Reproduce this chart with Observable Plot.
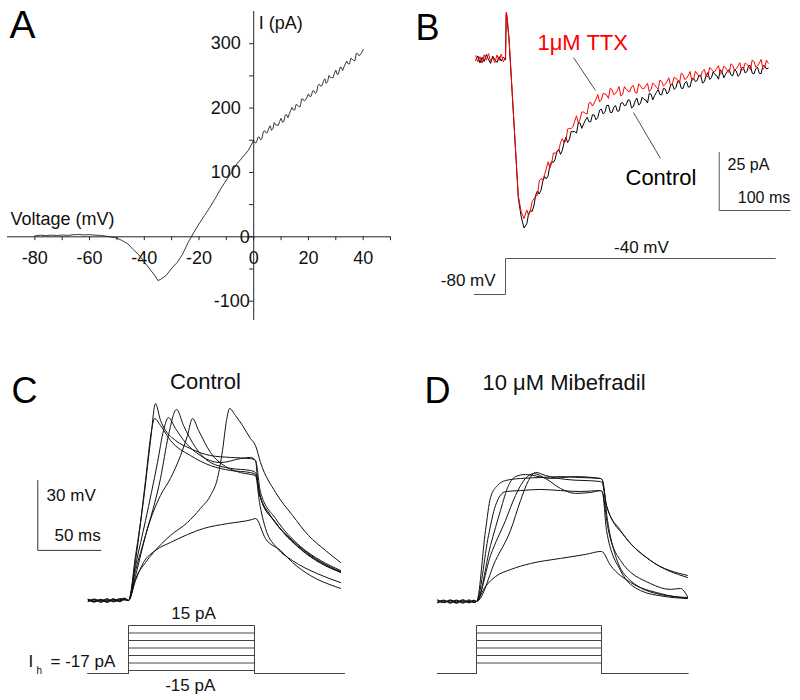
<!DOCTYPE html>
<html><head><meta charset="utf-8">
<script src="https://cdn.jsdelivr.net/npm/d3@7"></script>
<script src="https://cdn.jsdelivr.net/npm/@observablehq/plot@0.6"></script>
<style>
body{margin:0;background:#fff;}
#fig{position:relative;width:800px;height:700px;background:#fff;}
</style></head><body><div id="fig"></div>
<script>
// ---------- Panel A: I-V curve (mV, pA) ----------
const ivCurve = [[-80,1.5],[-78,2.5],[-76,1.8],[-74,2.6],[-72,2],[-70,2.8],[-68,2.2],[-66,3.2],[-64,3.6],[-62,2.9],[-60,3.4],[-58,2.6],[-56,2.2],[-54,1],[-52,-0.5],[-50,-2],[-48,-6],[-46,-11],[-44,-20],[-42,-28],[-40,-39],[-38,-50],[-36,-61],[-35,-68],[-34,-66],[-33,-63],[-32,-60],[-30,-49],[-28,-40],[-26,-27],[-24,-9],[-22,6],[-20,20],[-18,33],[-16,46],[-14,60],[-12,75],[-10,88],[-8,101],[-6,114],[-4,124],[-2,134],
[0,150],[1,146.5],[2,155],[3,152.5],[4,165],[5,162],[6,172.5],[7,168],[8,174],[9,173],[10,184],[11,179],[12,190],[13,191],[14,201],[15,197],[16,204.5],[17,202],[18,214],[19,213],[20,222],[21,218.5],[22,227],[23,224.5],[24,237],[25,235],[26,245.5],[27,241],[28,247.5],[29,247],[30,259],[31,253],[32,263.5],[33,264],[34,273],[35,268.5],[36,276],[37,273.5],[38,284.5],[39,283],[40,291]];
const ivCurveHalfSteps = [[0.5,145.8],[1.5,154.3],[2.5,150.8],[3.5,163.3],[4.5,161.5],[5.5,168.8],[6.5,165.3],[7.5,177.5],[8.5,173.5],[9.5,179.5],[10.5,178],[11.5,189],[12.5,185],[13.5,196],[14.5,197],[15.5,205.8],[16.5,202.3],[17.5,214],[18.5,211],[19.5,217],[20.5,217.8],[21.5,226.3],[22.5,222.8],[23.5,235.3],[24.5,234],[25.5,241.8],[26.5,238.3],[27.5,250.8],[28.5,247.3],[29.5,254],[30.5,252.5],[31.5,262.8],[32.5,258.3],[33.5,268.5],[34.5,268.8],[35.5,277.3],[36.5,273.8],[37.5,285],[38.5,281.3],[39.5,286.5]];
const aXTicks = [-80,-70,-60,-50,-40,-30,-20,-10,0,10,20,30,40,50];
const aXLabels = [-80,-60,-40,-20,0,20,40];
const aYTicks = [-100,-50,0,50,100,150,200,250,300];
const aYLabelsPos = [100,200,300];
const aYLabelsLow = [-100,0];

// ---------- Panel B: current traces (time ms, current pA relative to holding) ----------
const tB = [-42,-39,-36,-33,-30,-27,-24,-21,-18,-15,-12,-9,-6,-3,0,1,2,5,10,15,18,22,26,
30,35,40,45,50,55,60,65,70,75,80,85,90,95,100,105,110,115,120,125,130,135,140,145,150,155,160,165,170,175,180,185,190,195,200,205,210,215,220,225,230,235,240,245,250,255,260,265,270,275,280,285,290,295,300,305,310,315,320,325,330,335,340,345,350,355,360,365,370];
const ttx = [1.2,-1.5,0.8,-2.0,1.6,-0.7,2.1,-1.2,0.4,-1.8,1.5,-0.9,1.9,-1.4,0.3,20,19,8.5,-17.5,-43.5,-59,-66,-69,
-65.3,-65.9,-60.5,-59,-51.7,-50.1,-44.5,-45.1,-40.8,-39.6,-34.5,-35.6,-30.1,-29.4,-24.7,-26.2,-23.1,-23.9,-18.9,-19.2,-15.5,-17.9,-15.3,-17.2,-13.4,-15,-12.1,-15.4,-13.3,-14.4,-11.6,-15,-11.8,-13,-10.7,-13.3,-11.3,-13.2,-9.8,-11.1,-8.3,-10.9,-8.6,-10.7,-7,-8.5,-5.6,-8.8,-6.7,-7.7,-4.7,-7.9,-4.6,-5.6,-3.1,-5.9,-4,-6.1,-2.9,-4.4,-1.8,-4.7,-2.5,-4.9,-1.4,-3.2,-0.4,-3.9,-2];
const control = [-0.8,1.1,-1.9,0.5,-1.3,1.7,-0.4,-2.1,1.0,-0.6,-1.7,0.8,-1.1,0.6,-0.5,19,18,8,-18,-44,-60,-68,-73,
-71.2,-65.4,-63.5,-57.1,-56.8,-50.8,-50.6,-44.5,-43.3,-39.1,-39.6,-34,-34.8,-31.6,-32.2,-27.8,-28.2,-25.3,-27.3,-24.4,-25.4,-21.8,-23.2,-20.1,-23.3,-20.3,-22.6,-19,-20,-18,-20.8,-17,-19.4,-17.6,-19.2,-15.4,-16,-13.4,-15.7,-13.2,-14.4,-11,-12.6,-9.7,-12.9,-9.9,-12.2,-8.6,-9.5,-7.4,-10,-6,-8.3,-6.9,-8.9,-5.6,-6.8,-4.7,-7.5,-5.4,-6.9,-3.8,-5.7,-3.1,-6.6,-3.9,-6.5,-3.1,-4.2];
// extra samples between the above (t = 32.5 ... 367.5 ms)
const tBMid = [32.5,37.5,42.5,47.5,52.5,57.5,62.5,67.5,72.5,77.5,82.5,87.5,92.5,97.5,102.5,107.5,112.5,117.5,122.5,127.5,132.5,137.5,142.5,147.5,152.5,157.5,162.5,167.5,172.5,177.5,182.5,187.5,192.5,197.5,202.5,207.5,212.5,217.5,222.5,227.5,232.5,237.5,242.5,247.5,252.5,257.5,262.5,267.5,272.5,277.5,282.5,287.5,292.5,297.5,302.5,307.5,312.5,317.5,322.5,327.5,332.5,337.5,342.5,347.5,352.5,357.5,362.5,367.5];
const ttxMid = [-67.6,-61.6,-59.3,-52.8,-52.3,-47.5,-47.2,-40.7,-40.4,-36.3,-36.3,-30.4,-30.2,-27,-27.8,-23,-23.7,-19.2,-20.5,-17.5,-18.7,-15,-15.8,-12.8,-15.6,-13.8,-16.2,-12.1,-14,-12.2,-14.5,-10.9,-12.9,-11.8,-14.3,-10.6,-12.4,-9.3,-11.9,-9.8,-11.6,-8.1,-9.2,-6.3,-9.1,-7.3,-9.6,-5.5,-7.4,-5.4,-7.5,-3.8,-5.6,-4.3,-6.8,-3.3,-5.2,-2.3,-5.1,-3.2,-5.2,-2,-3.3,-0.6,-3.7,-2,-4.6,-0.7];
const controlMid = [-67,-65.9,-58.9,-58.4,-53,-51.9,-45.9,-44.8,-40,-41.3,-36.3,-36.2,-31.4,-31.4,-27.7,-30.1,-26.6,-27.2,-24.2,-26.4,-22.3,-23.9,-20.3,-23.2,-21,-22.7,-19.2,-20.4,-17.8,-21.3,-18.4,-20,-16.7,-17.9,-15,-17.8,-14.6,-15.5,-12.8,-15.3,-11.4,-13.3,-9.8,-12.8,-10.6,-12.3,-8.8,-9.9,-7.2,-10.6,-7.5,-9,-5.8,-7.4,-4.9,-8.3,-5.6,-7,-4.8,-7.7,-4.1,-6.2,-3,-6.3,-4.4,-6.4,-3.2,-4.5];
const bProtocol = [[-44,-80],[0,-80],[0,-40],[380,-40]];
const bScale = {t: 301, i: -65.5, dt: 100, di: 25};

// ---------- Panel C / D: voltage traces (time ms, mV relative to rest) ----------
const cTrace1 = [[-32,0.4],[-27,-0.5],[-22,0.3],[-17,-0.6],[-12,0.5],[-7,-0.3],[-3,0.8],[0,0],[5.6,19.3],[11.9,42.9],[17.5,68.7],[21.4,84.5],[25.4,77.3],[29.4,73],[37.3,68.7],[49.2,65.2],[65.1,62.2],[81,61.4],[96.8,60.9],[100.8,60.1],[103.2,47.2],[112.7,36.5],[130.2,25.8],[148.4,18],[168.3,12.4]];
const cTrace2 = [[-32,-0.5],[-27,0.3],[-22,-0.8],[-17,0.2],[-12,-0.4],[-7,0.6],[-3,0.2],[0,0],[5.6,17.2],[13.5,51.5],[18.3,73],[20.6,78.1],[25.4,75.1],[33.3,68.7],[49.2,62.2],[65.1,57.9],[81,55.8],[96.8,54.9],[100.8,54.1],[104.8,44],[116.7,33.5],[136.5,22],[152.4,16],[168.3,12.2]];
const cTrace3 = [[-32,0.2],[-27,-0.7],[-22,0.5],[-17,-0.3],[-12,0.7],[-7,-0.5],[-3,0.4],[0,0],[5.6,15],[13.5,34.3],[23,59.2],[27.8,73],[31.7,78.5],[37.3,73.8],[45.2,67.8],[57.1,62.2],[73,59.2],[88.9,60.9],[96.8,61.4],[100.8,60.1],[104.8,46.4],[116.7,35.2],[136.5,23.2],[152.4,17.2],[168.3,12.9]];
const cTrace4 = [[-32,-0.3],[-27,0.6],[-22,-0.2],[-17,0.8],[-12,-0.6],[-7,0.3],[-3,1.0],[0,0],[5.6,12.9],[13.5,27.9],[25.4,52.4],[31.7,70.8],[38.1,82],[43.7,75.1],[53.2,65.7],[65.1,59.2],[81,56.7],[96.8,55.8],[100.8,54.9],[104.8,44.2],[116.7,33.5],[136.5,22.3],[152.4,16.3],[168.3,12]];
const cTrace5 = [[-32,0.6],[-27,-0.2],[-22,0.4],[-17,-0.8],[-12,0.2],[-7,-0.4],[-3,0.7],[0,0],[5.6,10.7],[15.1,30.9],[25.4,45.1],[33.3,52.4],[41.3,62.2],[46.8,70.8],[50.8,78.1],[55.6,73],[65.1,63.5],[77,57.5],[88.9,54.9],[100.8,53.6],[104,42],[108.7,31],[118,22.5],[130,17.2],[150,11.5],[168.3,7.7]];
const cTrace6 = [[-32,-0.2],[-27,0.5],[-22,-0.6],[-17,0.4],[-12,-0.2],[-7,0.8],[-3,0.5],[0,0],[5.6,9.4],[13.5,16.3],[19.8,20.6],[33.3,27.9],[46.8,33.5],[57.1,39.5],[65.1,45.1],[70.6,52.4],[74.6,64.4],[77.8,77.3],[80.2,82.4],[84.9,79.4],[90.5,75.1],[96.8,69.5],[100.8,66.5],[104.8,59.2],[116.7,46.4],[130.2,36.5],[142.9,27.9],[156.3,21.5],[168.3,16.3]];
const cTrace7 = [[-32,0.3],[-27,-0.4],[-22,0.1],[-17,-0.5],[-12,0.6],[-7,-0.1],[-3,0.9],[0,0],[5.6,8.6],[11.9,16.3],[21.4,21.5],[33.3,24.9],[46.8,28.3],[59.5,30.9],[78.6,33],[98.4,34.8],[100.8,35.2],[108.7,26.6],[120.6,21.5],[130.2,16.3],[144.4,10.7],[164,6],[168.3,5.2]];

const dTrace1 = [[-31,0.5],[-26,-0.4],[-21,0.7],[-16,-0.2],[-11,0.4],[-6,-0.6],[-2,0.3],[0,0],[7.2,30.5],[11.2,44.6],[16.8,49.8],[23.2,51.9],[35.2,52.8],[51.2,53.2],[67.2,53.6],[83.2,53.2],[99.2,52.8],[100.8,51.9],[104.8,34.8],[111.2,19.7],[123.2,9],[147.2,3],[168.8,1.7]];
const dTrace2 = [[-31,-0.6],[-26,0.3],[-21,-0.2],[-16,0.6],[-11,-0.7],[-6,0.2],[-2,-0.3],[0,0],[9.6,28.3],[15.2,41.2],[23.2,47.2],[35.2,47.6],[51.2,48.1],[67.2,47.6],[83.2,47.2],[99.2,47.6],[100.8,46.8],[104,30.5],[115.2,13.3],[131.2,4.7],[150,2.2],[168.8,1.3]];
const dTrace3 = [[-31,0.2],[-26,-0.5],[-21,0.4],[-16,-0.8],[-11,0.3],[-6,-0.2],[-2,0.6],[0,0],[11.2,24],[19.2,39.1],[25.6,49.8],[31.2,53.6],[39.2,54.5],[59.2,52.8],[79.2,53.6],[99.2,52.8],[100.8,51.9],[104,41.2],[115.2,30.5],[139.2,17.6],[168.8,11.2]];
const dTrace4 = [[-31,-0.3],[-26,0.6],[-21,-0.6],[-16,0.2],[-11,-0.4],[-6,0.7],[-2,-0.2],[0,0],[11.2,19.7],[23.2,34.8],[31.2,45.5],[39.2,52.8],[45.6,54.9],[55.2,52.8],[67.2,48.5],[79.2,46.4],[91.2,46.8],[99.2,47.6],[100.8,46.8],[104.8,32.6],[115.2,17.6],[139.2,7.7],[155.2,5.2],[163.2,5.6],[168.8,2.1]];
const dTrace5 = [[-31,0.7],[-26,-0.3],[-21,0.5],[-16,-0.5],[-11,0.8],[-6,-0.4],[-2,0.4],[0,0],[15.2,17.6],[27.2,30.5],[35.2,43.3],[41.6,51.9],[47.2,55.4],[55.2,54.1],[71.2,52.4],[99.2,51.5],[100.8,50.6],[104,41.2],[119.2,27.5],[139.2,17.6],[168.8,10.3]];
const dTrace6 = [[-31,-0.4],[-26,0.4],[-21,-0.7],[-16,0.5],[-11,-0.3],[-6,0.3],[-2,-0.5],[0,0],[7.2,6.4],[15.2,10.7],[27.2,13.7],[43.2,16.3],[67.2,18.5],[87.2,20.2],[100,21.5],[107.2,15.5],[123.2,8.2],[147.2,3.4],[168.8,1.3]];

// current-step protocols (pA)
const cLevels = [-15,-10,-5,0,5,10,15];
const dLevels = [-10,-5,0,5,10,15];
const holdingCurrent = -17;
const stepOn = 0, stepOff = 100;
const cWindow = [-32, 171];
const dWindow = [-31, 169];
const cScale = {t: -72, v: 21.5, dt: 50, dv: 30};

// ---------- helpers ----------
const FONT = '"Liberation Sans", Arial, Helvetica, sans-serif';
const baseStyle = {background: "transparent", overflow: "visible", fontFamily: FONT};
const fig = document.getElementById("fig");
function place(svg, left, top) {
  svg.style.position = "absolute";
  svg.style.left = left + "px";
  svg.style.top = top + "px";
  svg.style.maxWidth = "none";
  fig.append(svg);
}
const toRows = (traces) => traces.flatMap((tr, k) => tr.map(([t, v]) => ({k, t, v})));
const stepRows = (levels, win) => levels.flatMap(L => [
  [win[0], holdingCurrent], [stepOn, holdingCurrent], [stepOn, L], [stepOff, L], [stepOff, holdingCurrent], [win[1], holdingCurrent]
].map(([t, i]) => ({L, t, i})));

// ---------- Panel A ----------
const ivRows = ivCurve.concat(ivCurveHalfSteps).sort((a, b) => a[0] - b[0]);
place(Plot.plot({
  width: 400, height: 330, margin: 0, style: baseStyle,
  x: {domain: [-90, 50], range: [7, 390], axis: null},
  y: {domain: [-130, 350], range: [320, 11], axis: null},
  marks: [
    Plot.ruleY([0], {x1: -90, x2: 50, stroke: "#222"}),
    Plot.ruleX([0], {y1: -130, y2: 350, stroke: "#222"}),
    Plot.ruleX(aXTicks, {x: d => d, y1: 0, y2: -6, stroke: "#222"}),
    Plot.ruleY(aYTicks, {y: d => d, x1: 0, x2: -1.5, stroke: "#222"}),
    Plot.text(aXLabels, {x: d => d, y: 0, text: d => String(d), dy: 21, fontSize: 18, fill: "#111"}),
    Plot.text(aYLabelsPos, {x: 0, y: d => d, text: d => String(d), textAnchor: "end", dx: -13, fontSize: 18, fill: "#111"}),
    Plot.text(aYLabelsLow, {x: 0, y: d => d, text: d => String(d), textAnchor: "end", dx: -4, fontSize: 18, fill: "#111"}),
    Plot.line(ivRows, {x: d => d[0], y: d => d[1], stroke: "#222", strokeWidth: 0.9}),
    Plot.text(["I (pA)"], {x: 0, y: 350, dx: 5, dy: 5, lineAnchor: "top", textAnchor: "start", fontSize: 18, fill: "#111"}),
    Plot.text(["Voltage (mV)"], {x: -90, y: 0, dx: 3, dy: -12, lineAnchor: "bottom", textAnchor: "start", fontSize: 18, fill: "#111"}),
    Plot.text(["A"], {frameAnchor: "top-left", dx: 9, dy: 10, lineAnchor: "top", textAnchor: "start", fontSize: 39, fill: "#000"})
  ]
}), 0, 0);

// ---------- Panel B ----------
const bRows = tB.map((t, j) => ({t, ttx: ttx[j], control: control[j]}))
  .concat(tBMid.map((t, j) => ({t, ttx: ttxMid[j], control: controlMid[j]})))
  .sort((a, b) => a.t - b.t);
const bX = {domain: [-50, 400], range: [69.5, 389], axis: null};
place(Plot.plot({
  width: 400, height: 240, margin: 0, style: baseStyle,
  x: bX,
  y: {domain: [-78, 25], range: [239, 0], axis: null},
  marks: [
    Plot.line(bRows, {x: "t", y: "control", stroke: "#000", strokeWidth: 1}),
    Plot.line(bRows, {x: "t", y: "ttx", stroke: "#ff0000", strokeWidth: 1}),
    Plot.link([{x1: 95.8, y1: 0.4, x2: 126.8, y2: -13.8}, {x1: 218.3, y1: -43.1, x2: 180.3, y2: -23.3}],
      {x1: "x1", y1: "y1", x2: "x2", y2: "y2", stroke: "#222", strokeWidth: 0.8}),
    Plot.text(["1μM TTX"], {x: 45, y: 6.9, textAnchor: "start", fontSize: 22, fill: "#ff0000"}),
    Plot.text(["Control"], {x: 169, y: -51.3, textAnchor: "start", fontSize: 22, fill: "#000"}),
    Plot.line([[bScale.t, bScale.i + bScale.di], [bScale.t, bScale.i], [bScale.t + bScale.dt, bScale.i]],
      {x: d => d[0], y: d => d[1], stroke: "#555", strokeWidth: 1}),
    Plot.text(["25 pA"], {x: 312.7, y: -46, textAnchor: "start", fontSize: 16, fill: "#111"}),
    Plot.text(["100 ms"], {x: 401, y: -59.9, textAnchor: "end", fontSize: 16, fill: "#111"}),
    Plot.text(["B"], {frameAnchor: "top-left", dx: 15, dy: 14, lineAnchor: "top", textAnchor: "start", fontSize: 36, fill: "#000"})
  ]
}), 400, 0);

place(Plot.plot({
  width: 400, height: 60, margin: 0, style: baseStyle,
  x: bX,
  y: {domain: [-80, -40], range: [54, 18], axis: null},
  marks: [
    Plot.line(bProtocol, {x: d => d[0], y: d => d[1], stroke: "#555", strokeWidth: 1}),
    Plot.text(["-80 mV"], {x: -14, y: -64.4, textAnchor: "end", fontSize: 17, fill: "#111"}),
    Plot.text(["-40 mV"], {x: 191.5, y: -28.3, fontSize: 17, fill: "#111"})
  ]
}), 400, 240);

// ---------- Panel C ----------
const cX = {domain: [-40, 180], range: [77.6, 354.8], axis: null};
place(Plot.plot({
  width: 400, height: 260, margin: 0, style: baseStyle,
  x: cX,
  y: {domain: [0, 100], range: [260, 27], axis: null},
  marks: [
    Plot.line(toRows([cTrace1, cTrace2, cTrace3, cTrace4, cTrace5, cTrace6, cTrace7]),
      {x: "t", y: "v", z: "k", stroke: "#111", strokeWidth: 1, curve: "monotone-x"}),
    Plot.line([[cScale.t, cScale.v + cScale.dv], [cScale.t, cScale.v], [cScale.t + cScale.dt, cScale.v]],
      {x: d => d[0], y: d => d[1], stroke: "#333", strokeWidth: 1}),
    Plot.text(["30 mV"], {x: -65, y: 45, textAnchor: "start", fontSize: 17, fill: "#111"}),
    Plot.text(["50 ms"], {x: cScale.t + cScale.dt, y: 27.9, textAnchor: "end", fontSize: 17, fill: "#111"}),
    Plot.text(["Control"], {x: 61.1, y: 93.6, fontSize: 22, fill: "#111"}),
    Plot.text(["C"], {frameAnchor: "top-left", dx: 11, dy: 37, lineAnchor: "top", textAnchor: "start", fontSize: 36, fill: "#000"})
  ]
}), 0, 340);

place(Plot.plot({
  width: 400, height: 100, margin: 0, style: baseStyle,
  x: cX,
  y: {domain: [-15, 15], range: [70, 25], axis: null},
  marks: [
    Plot.line(stepRows(cLevels, cWindow), {x: "t", y: "i", z: "L", stroke: "#444", strokeWidth: 1}),
    Plot.text(["15 pA"], {x: 51.6, y: 23, fontSize: 17, fill: "#111"}),
    Plot.text(["-15 pA"], {x: 49, y: -25, fontSize: 17, fill: "#111"}),
    Plot.text(["I"], {x: -79.4, y: -8.7, textAnchor: "start", fontSize: 17, fill: "#111"}),
    Plot.text(["h"], {x: -73, y: -15.3, textAnchor: "start", fontSize: 10, fill: "#111"}),
    Plot.text(["= -17 pA"], {x: -61.9, y: -8.7, textAnchor: "start", fontSize: 17, fill: "#111"})
  ]
}), 0, 600);

// ---------- Panel D ----------
const dX = {domain: [-40, 180], range: [26, 301], axis: null};
place(Plot.plot({
  width: 400, height: 260, margin: 0, style: baseStyle,
  x: dX,
  y: {domain: [0, 100], range: [261, 28], axis: null},
  marks: [
    Plot.line(toRows([dTrace1, dTrace2, dTrace3, dTrace4, dTrace5, dTrace6]),
      {x: "t", y: "v", z: "k", stroke: "#111", strokeWidth: 1, curve: "monotone-x"}),
    Plot.text(["10 μM Mibefradil"], {x: 4.8, y: 93.6, textAnchor: "start", fontSize: 22, fill: "#111"}),
    Plot.text(["D"], {frameAnchor: "top-left", dx: 24, dy: 37, lineAnchor: "top", textAnchor: "start", fontSize: 36, fill: "#000"})
  ]
}), 400, 340);

place(Plot.plot({
  width: 400, height: 100, margin: 0, style: baseStyle,
  x: dX,
  y: {domain: [-15, 15], range: [70, 25], axis: null},
  marks: [
    Plot.line(stepRows(dLevels, dWindow), {x: "t", y: "i", z: "L", stroke: "#444", strokeWidth: 1})
  ]
}), 400, 600);
</script>
</body></html>
